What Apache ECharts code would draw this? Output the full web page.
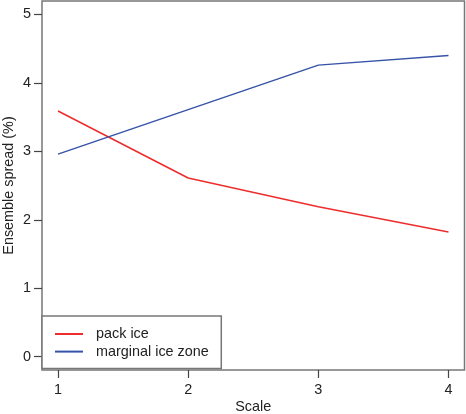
<!DOCTYPE html>
<html>
	<head>
		<meta charset="utf-8" />
		<script type="text/javascript" src="https://cdn.jsdelivr.net/npm/echarts@6/dist/echarts.min.js"></script>
		<title></title>
		<style>
			html, body { margin: 0; padding: 0; background: #fff; }
		</style>
	</head>
	<body>
		<div id="chartmain" style="width:466px; height:414px;"></div>
		<script type="text/javascript">
var scales = [1, 2, 3, 4];
var packIce = [3.59, 2.61, 2.19, 1.82];
var marginalIceZone = [2.96, 3.61, 4.26, 4.40];
var xTicks = [1, 2, 3, 4];
var yTicks = [0, 1, 2, 3, 4, 5];

function pairs(xs, ys) {
  return xs.map(function (x, i) { return [x, ys[i]]; });
}

var font = '"Liberation Sans", Arial, sans-serif';

option = {
  animation: false,
  grid: {
    left: 42,
    right: 1.5,
    top: 1,
    bottom: 44,
    containLabel: false,
    outerBoundsMode: 'none',
    show: true,
    borderColor: '#777',
    borderWidth: 1.5
  },
  legend: {
    orient: 'vertical',
    left: 42,
    top: 316,
    padding: [11, 12.5, 10, 13],
    itemWidth: 28,
    itemHeight: 14,
    itemGap: 3.6,
    icon: 'path://M0,6L28,6L28,8L0,8Z',
    backgroundColor: '#fff',
    borderColor: '#777',
    borderWidth: 1.5,
    textStyle: {
      fontFamily: font,
      fontSize: 14.4,
      color: '#222',
      padding: [0, 0, 0, 8]
    },
    data: ['pack ice', 'marginal ice zone']
  },
  xAxis: {
    type: 'value',
    min: 0.877,
    max: 4.123,
    name: 'Scale',
    nameLocation: 'middle',
    nameGap: 30,
    nameMoveOverlap: false,
    nameTextStyle: { fontFamily: font, fontSize: 14.4, color: '#222' },
    axisLine: { show: false, onZero: false },
    splitLine: { show: false },
    axisTick: { show: true, inside: false, length: 8, customValues: xTicks, lineStyle: { color: '#444', width: 1.2 } },
    axisLabel: { customValues: xTicks, margin: 13, fontFamily: font, fontSize: 14.4, color: '#222' }
  },
  yAxis: {
    type: 'value',
    min: -0.195,
    max: 5.197,
    name: 'Ensemble spread (%)',
    nameLocation: 'middle',
    nameGap: 26,
    nameMoveOverlap: false,
    nameTextStyle: { fontFamily: font, fontSize: 14.4, color: '#222' },
    axisLine: { show: false, onZero: false },
    splitLine: { show: false },
    axisTick: { show: true, inside: false, length: 8, customValues: yTicks, lineStyle: { color: '#444', width: 1.2 } },
    axisLabel: { customValues: yTicks, margin: 11, fontFamily: font, fontSize: 14.4, color: '#222' }
  },
  series: [
    {
      name: 'pack ice',
      type: 'line',
      data: pairs(scales, packIce),
      showSymbol: false,
      symbol: 'none',
      color: '#ee2c2c',
      lineStyle: { color: '#ee2c2c', width: 1.5 },
      z: 1
    },
    {
      name: 'marginal ice zone',
      type: 'line',
      data: pairs(scales, marginalIceZone),
      showSymbol: false,
      symbol: 'none',
      color: '#3653a8',
      lineStyle: { color: '#3653a8', width: 1.5 },
      z: 1
    }
  ]
};
			var myChart = echarts.init(document.getElementById('chartmain'));
			myChart.setOption(option);

			window.addEventListener('resize', function () {
				myChart.resize()
			})
		</script>
	</body>
</html>
